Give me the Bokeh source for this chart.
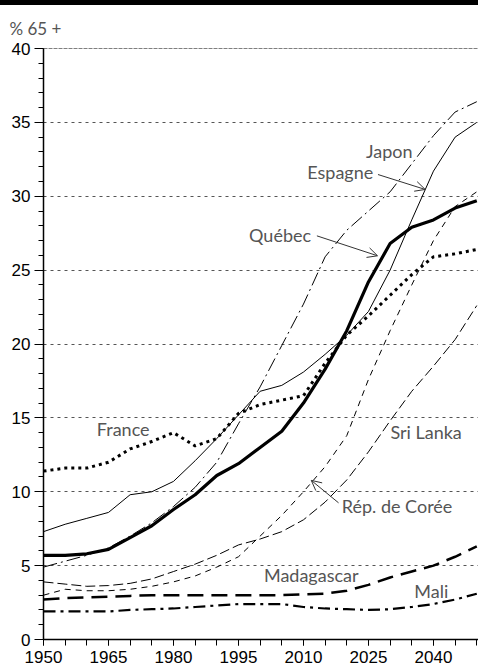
from bokeh.plotting import figure
from bokeh.layouts import column
from bokeh.models import (Range1d, SingleIntervalTicker, Label, Arrow, OpenHead,
                          Span, Title, Div)
from bokeh.embed import file_html
from bokeh.resources import INLINE

years = [1950, 1955, 1960, 1965, 1970, 1975, 1980, 1985, 1990, 1995, 2000,
         2005, 2010, 2015, 2020, 2025, 2030, 2035, 2040, 2045, 2050]

quebec = [5.7, 5.7, 5.8, 6.1, 6.9, 7.7, 8.8, 9.8, 11.1, 11.9, 13.0,
          14.1, 16.0, 18.3, 20.9, 24.2, 26.8, 27.9, 28.4, 29.2, 29.7]
france = [11.4, 11.6, 11.6, 12.0, 12.9, 13.4, 14.0, 13.1, 13.6, 15.3, 15.9,
          16.2, 16.5, 18.7, 20.6, 21.9, 23.3, 24.7, 25.9, 26.1, 26.4]
espagne = [7.3, 7.8, 8.2, 8.6, 9.8, 10.0, 10.7, 12.1, 13.6, 15.2, 16.8,
           17.2, 18.1, 19.3, 20.6, 22.2, 25.0, 28.4, 31.7, 34.0, 35.0]
japon = [4.9, 5.3, 5.7, 6.2, 7.0, 7.9, 9.0, 10.3, 12.0, 14.6, 17.1,
         19.9, 22.7, 25.9, 27.7, 29.0, 30.3, 32.2, 34.1, 35.7, 36.4]
coree = [3.0, 3.4, 3.3, 3.3, 3.4, 3.6, 3.9, 4.3, 4.9, 5.6, 7.0,
         8.4, 10.0, 11.7, 13.8, 17.6, 20.9, 24.0, 27.0, 29.3, 30.3]
sri_lanka = [3.9, 3.75, 3.6, 3.65, 3.8, 4.1, 4.6, 5.1, 5.7, 6.4, 6.8,
             7.3, 8.1, 9.3, 10.8, 12.7, 14.8, 16.8, 18.5, 20.3, 22.6]
madagascar = [2.7, 2.8, 2.85, 2.9, 2.95, 3.0, 3.0, 3.0, 3.0, 3.0, 3.0,
              3.0, 3.05, 3.1, 3.3, 3.7, 4.2, 4.6, 5.0, 5.6, 6.3]
mali = [1.9, 1.9, 1.9, 1.9, 2.0, 2.05, 2.1, 2.2, 2.3, 2.4, 2.4,
        2.4, 2.2, 2.1, 2.05, 2.0, 2.05, 2.2, 2.4, 2.7, 3.1]

label_texts = ["Japon", "Espagne", "Québec", "France", "Sri Lanka",
               "Rép. de Corée", "Madagascar", "Mali"]
label_x = [2029.8, 2018.5, 2004.6, 1968.4, 2038.3, 2031.6, 2011.8, 2039.5]
label_y = [33.06, 31.65, 27.4, 14.28, 14.07, 9.02, 4.38, 3.3]

# arrows: (x_start, y_start, x_end, y_end)
arrow_x0 = [2027.2, 2013.1, 2018.1]
arrow_y0 = [31.47, 27.32, 9.25]
arrow_x1 = [2038.1, 2027.1, 2011.8]
arrow_y1 = [30.46, 25.97, 10.77]

# thin black band across the top
band = Div(text="", width=478, height=5, margin=(0, 0, 0, 0),
           styles={"background-color": "black", "width": "478px",
                   "height": "5px", "min-height": "5px", "display": "block"})

p = figure(width=478, height=666, x_range=Range1d(1950, 2050.4),
           y_range=Range1d(0, 40), output_backend="svg", toolbar_location=None,
           min_border_left=43, min_border_right=0, min_border_top=40,
           min_border_bottom=32, margin=(0, 0, 0, 0))
p.outline_line_color = None
p.background_fill_color = "white"
p.border_fill_color = "white"

# unit label as a left-aligned title
p.title = Title(text="% 65 +", align="left", offset=-34, standoff=20,
                text_font="Lato", text_font_size="17px", text_color="#555555",
                text_font_style="normal")

# axes
p.xaxis.ticker = SingleIntervalTicker(interval=15, num_minor_ticks=3)
p.yaxis.ticker = SingleIntervalTicker(interval=5, num_minor_ticks=5)
for ax in (p.xaxis, p.yaxis):
    ax.axis_line_color = "black"
    ax.axis_line_width = 1.5
    ax.major_tick_line_color = "black"
    ax.minor_tick_line_color = "black"
    ax.major_tick_line_width = 1
    ax.minor_tick_line_width = 1
    ax.major_tick_in = 0
    ax.minor_tick_in = 0
    ax.major_label_text_font = "Liberation Sans"
    ax.major_label_text_font_size = "17px"
    ax.major_label_text_color = "black"
p.xaxis.major_tick_out = 6
p.xaxis.minor_tick_out = 6
p.xaxis.major_label_standoff = 5
p.yaxis.major_tick_out = 9
p.yaxis.minor_tick_out = 5
p.yaxis.major_label_standoff = 4

p.xgrid.grid_line_color = None
p.ygrid.grid_line_color = "#555555"
p.ygrid.grid_line_dash = "3 4"
p.ygrid.grid_line_width = 1

p.add_layout(Span(location=40, dimension="width", line_color="black",
                  line_width=1.2, line_dash="4 1"))

# series
p.line(years, mali, line_color="black", line_width=2.2, line_dash="12 5 3 5")
p.line(years, madagascar, line_color="black", line_width=2.5, line_dash="16 8")
p.line(years, sri_lanka, line_color="black", line_width=1, line_dash="10 4")
p.line(years, coree, line_color="black", line_width=1, line_dash="6 5")
p.line(years, japon, line_color="black", line_width=1, line_dash="14 4 2 4")
p.line(years, espagne, line_color="black", line_width=1)
p.line(years, france, line_color="black", line_width=3, line_dash="3 4")
p.line(years, quebec, line_color="black", line_width=3.2)

for t, x, y in zip(label_texts, label_x, label_y):
    p.add_layout(Label(x=x, y=y, text=t, text_font="Lato", text_font_size="18px",
                       text_color="#555555", text_align="center",
                       text_baseline="middle"))

for x0, y0, x1, y1 in zip(arrow_x0, arrow_y0, arrow_x1, arrow_y1):
    p.add_layout(Arrow(x_start=x0, y_start=y0, x_end=x1, y_end=y1,
                       line_color="#333333", line_width=1,
                       end=OpenHead(size=10, line_color="#333333", line_width=1)))

layout = column(band, p, spacing=0, margin=(0, 0, 0, 0))
open("out.html", "w").write(file_html(layout, INLINE))
